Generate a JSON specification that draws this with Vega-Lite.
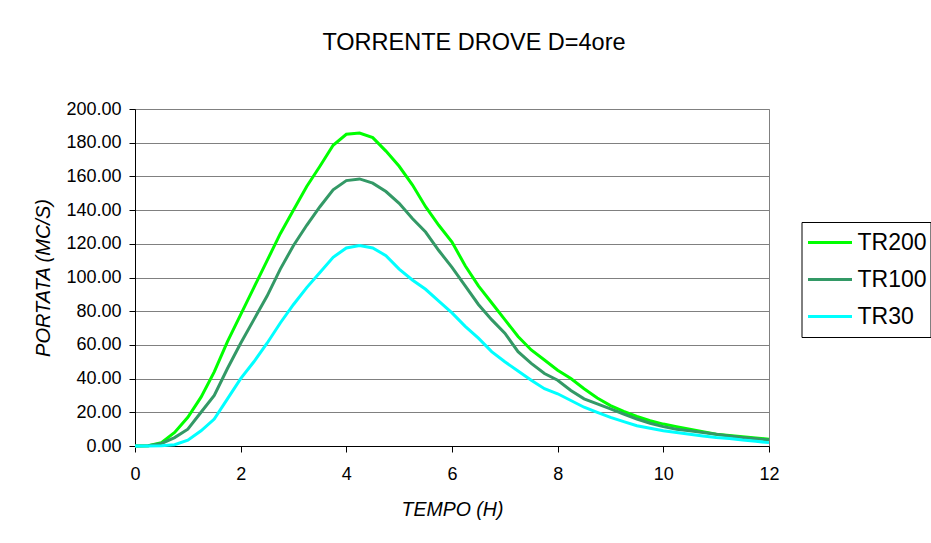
{
  "$schema": "https://vega.github.io/schema/vega-lite/v6.json",
  "autosize": {"type": "none"},
  "padding": {"left": 135, "top": 109, "right": 162, "bottom": 97},
  "width": 634,
  "height": 337,
  "background": "white",
  "title": {
    "text": "TORRENTE DROVE D=4ore",
    "frame": "group",
    "anchor": "middle",
    "dx": 22,
    "offset": 27,
    "baseline": "alphabetic",
    "font": "Liberation Sans",
    "fontSize": 23.5,
    "fontWeight": "normal",
    "color": "#000000"
  },
  "data": {
    "values": [
      {"t": 0, "TR200": 0, "TR100": 0, "TR30": 0},
      {"t": 0.25, "TR200": 0.1, "TR100": 0.1, "TR30": 0},
      {"t": 0.5, "TR200": 2, "TR100": 1.5, "TR30": 0.1},
      {"t": 0.75, "TR200": 8, "TR100": 5, "TR30": 0.8},
      {"t": 1.0, "TR200": 17, "TR100": 10, "TR30": 3.5},
      {"t": 1.25, "TR200": 29, "TR100": 20, "TR30": 9},
      {"t": 1.5, "TR200": 44, "TR100": 30, "TR30": 16},
      {"t": 1.75, "TR200": 62, "TR100": 46, "TR30": 28},
      {"t": 2.0, "TR200": 78, "TR100": 61, "TR30": 40},
      {"t": 2.25, "TR200": 94, "TR100": 75, "TR30": 50},
      {"t": 2.5, "TR200": 110, "TR100": 89, "TR30": 61},
      {"t": 2.75, "TR200": 126, "TR100": 105, "TR30": 73},
      {"t": 3.0, "TR200": 140, "TR100": 119, "TR30": 84},
      {"t": 3.25, "TR200": 154, "TR100": 131, "TR30": 94},
      {"t": 3.5, "TR200": 166, "TR100": 142, "TR30": 103},
      {"t": 3.75, "TR200": 178.5, "TR100": 152, "TR30": 112},
      {"t": 4.0, "TR200": 185, "TR100": 157.5, "TR30": 117.5},
      {"t": 4.25, "TR200": 185.7, "TR100": 158.5, "TR30": 119},
      {"t": 4.5, "TR200": 183, "TR100": 156, "TR30": 117.5},
      {"t": 4.75, "TR200": 175, "TR100": 151, "TR30": 113},
      {"t": 5.0, "TR200": 166, "TR100": 144, "TR30": 105},
      {"t": 5.25, "TR200": 155, "TR100": 135, "TR30": 98.5},
      {"t": 5.5, "TR200": 142, "TR100": 127, "TR30": 93},
      {"t": 5.75, "TR200": 131, "TR100": 116, "TR30": 86},
      {"t": 6.0, "TR200": 121, "TR100": 106, "TR30": 79},
      {"t": 6.25, "TR200": 107, "TR100": 95, "TR30": 71},
      {"t": 6.5, "TR200": 95, "TR100": 84, "TR30": 64},
      {"t": 6.75, "TR200": 85, "TR100": 75, "TR30": 56},
      {"t": 7.0, "TR200": 75, "TR100": 67, "TR30": 50},
      {"t": 7.25, "TR200": 65, "TR100": 56, "TR30": 44.5},
      {"t": 7.5, "TR200": 57, "TR100": 49, "TR30": 39},
      {"t": 7.75, "TR200": 51, "TR100": 43, "TR30": 34},
      {"t": 8.0, "TR200": 45, "TR100": 39, "TR30": 31},
      {"t": 8.25, "TR200": 40, "TR100": 33, "TR30": 27},
      {"t": 8.5, "TR200": 34, "TR100": 28, "TR30": 23},
      {"t": 8.75, "TR200": 28.5, "TR100": 25, "TR30": 20},
      {"t": 9.0, "TR200": 24, "TR100": 22, "TR30": 17},
      {"t": 9.25, "TR200": 20.5, "TR100": 19, "TR30": 14.5},
      {"t": 9.5, "TR200": 17.5, "TR100": 16, "TR30": 12},
      {"t": 9.75, "TR200": 15, "TR100": 13.5, "TR30": 10.5},
      {"t": 10.0, "TR200": 13, "TR100": 11.5, "TR30": 9},
      {"t": 10.25, "TR200": 11.5, "TR100": 10, "TR30": 8},
      {"t": 10.5, "TR200": 10, "TR100": 9, "TR30": 7},
      {"t": 10.75, "TR200": 8.5, "TR100": 8, "TR30": 6},
      {"t": 11.0, "TR200": 7, "TR100": 7, "TR30": 5},
      {"t": 11.25, "TR200": 6.3, "TR100": 6, "TR30": 4.5},
      {"t": 11.5, "TR200": 5.5, "TR100": 5, "TR30": 3.5},
      {"t": 11.75, "TR200": 4.8, "TR100": 4.3, "TR30": 2.8},
      {"t": 12.0, "TR200": 4, "TR100": 3.6, "TR30": 2}
    ]
  },
  "transform": [
    {"fold": ["TR200", "TR100", "TR30"], "as": ["serie", "q"]}
  ],
  "mark": {"type": "line", "strokeWidth": 3, "clip": false},
  "encoding": {
    "x": {
      "field": "t",
      "type": "quantitative",
      "scale": {"domain": [0, 12], "nice": false, "zero": false},
      "axis": {
        "title": "TEMPO (H)",
        "values": [0, 2, 4, 6, 8, 10, 12],
        "grid": false,
        "format": "d",
        "labelFlush": false,
        "domainColor": "#000000",
        "domainWidth": 1,
        "tickColor": "#000000",
        "tickSize": 6,
        "labelPadding": 13,
        "labelFontSize": 18,
        "labelFont": "Liberation Sans",
        "labelColor": "#000000",
        "titleFont": "Liberation Sans",
        "titleFontSize": 19.5,
        "titleFontWeight": "normal",
        "titleFontStyle": "italic",
        "titleColor": "#000000",
        "titleBaseline": "alphabetic",
        "titleY": 69
      }
    },
    "y": {
      "field": "q",
      "type": "quantitative",
      "scale": {"domain": [0, 200], "nice": false},
      "axis": {
        "title": "PORTATA (MC/S)",
        "values": [0, 20, 40, 60, 80, 100, 120, 140, 160, 180, 200],
        "format": ".2f",
        "labelFlush": false,
        "grid": true,
        "gridColor": "#808080",
        "gridWidth": 1,
        "domainColor": "#000000",
        "domainWidth": 1,
        "tickColor": "#000000",
        "tickSize": 6,
        "labelPadding": 8,
        "labelFontSize": 18,
        "labelFont": "Liberation Sans",
        "labelColor": "#000000",
        "titleFont": "Liberation Sans",
        "titleFontSize": 20,
        "titleFontWeight": "normal",
        "titleFontStyle": "italic",
        "titleColor": "#000000",
        "titleBaseline": "alphabetic",
        "titleX": -86
      }
    },
    "color": {
      "field": "serie",
      "type": "nominal",
      "sort": ["TR200", "TR100", "TR30"],
      "scale": {"domain": ["TR200", "TR100", "TR30"], "range": ["#00FF00", "#339966", "#00FFFF"]},
      "legend": {
        "title": null,
        "orient": "none",
        "legendX": 666.5,
        "legendY": 113,
        "symbolType": "stroke",
        "symbolSize": 1936,
        "symbolStrokeWidth": 3,
        "symbolOffset": 2,
        "clipHeight": 35,
        "rowPadding": 2,
        "padding": 3,
        "labelOffset": 4,
        "labelFont": "Liberation Sans",
        "labelFontSize": 23,
        "labelColor": "#000000",
        "strokeColor": "#000000",
        "fillColor": "#ffffff"
      }
    }
  },
  "config": {
    "view": {"stroke": "#808080", "strokeWidth": 1},
    "font": "Liberation Sans"
  }
}
